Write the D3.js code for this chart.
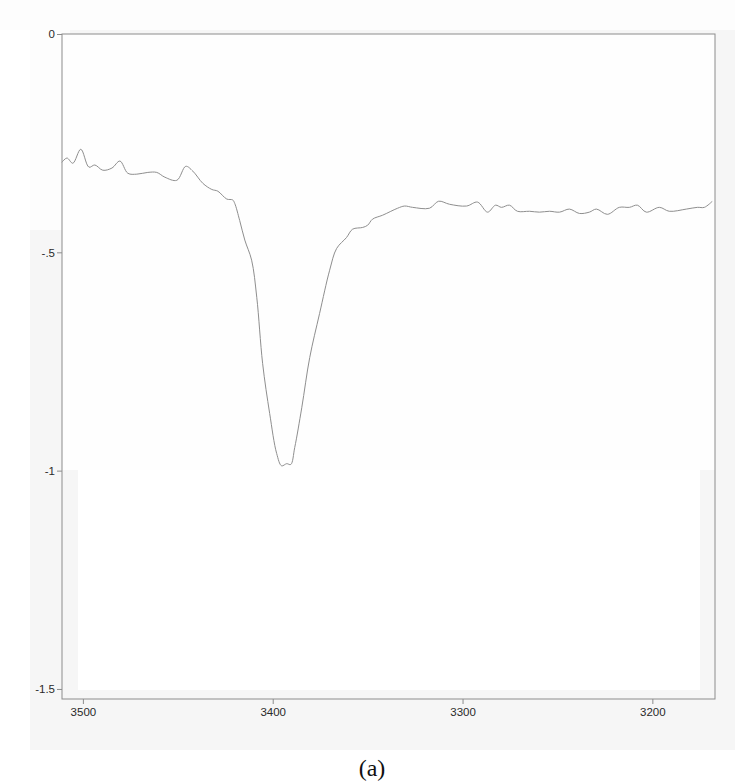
<!DOCTYPE html>
<html>
<head>
<meta charset="utf-8">
<script src="https://cdn.jsdelivr.net/npm/d3@7"></script>
<style>
  body { margin: 0; background: #fff; }
  svg { display: block; }
  .axis text { font-family: "Liberation Sans", Arial, sans-serif; font-size: 11.5px; fill: #2a2a2a; }
</style>
</head>
<body>
<svg width="735" height="782"></svg>
<script>
// wavenumber (cm-1) and absorbance
const wavenumber = [3511.1, 3508.4, 3505.3, 3501.1, 3496.8, 3493.7, 3489.5, 3484.7, 3480.5, 3476.3,
  3471.6, 3465.8, 3461.1, 3456.8, 3450.5, 3445.8, 3442.1, 3436.8, 3432.1, 3428.9,
  3424.2, 3421.1, 3420.0, 3417.4, 3414.7, 3411.1, 3408.4, 3405.3, 3401.6, 3397.9,
  3395.3, 3392.6, 3390.5, 3388.4, 3384.7, 3380.5, 3375.3, 3370.0, 3366.3, 3361.1,
  3357.9, 3352.6, 3350.0, 3347.4, 3342.1, 3334.2, 3330.5, 3326.3, 3317.4, 3312.6,
  3306.8, 3297.9, 3292.1, 3286.8, 3282.6, 3279.5, 3275.3, 3271.1, 3264.7, 3259.5,
  3254.2, 3248.9, 3243.7, 3238.4, 3233.2, 3229.5, 3223.7, 3217.4, 3212.1, 3207.9,
  3203.2, 3196.3, 3191.1, 3182.1, 3176.3, 3172.6, 3168.4]
const absorbance = [-0.294, -0.284, -0.296, -0.264, -0.305, -0.300, -0.312, -0.307, -0.291, -0.319,
  -0.321, -0.317, -0.317, -0.328, -0.335, -0.303, -0.314, -0.342, -0.356, -0.360,
  -0.378, -0.380, -0.388, -0.427, -0.472, -0.518, -0.603, -0.755, -0.869, -0.961,
  -0.989, -0.984, -0.986, -0.947, -0.856, -0.741, -0.640, -0.541, -0.491, -0.466,
  -0.447, -0.443, -0.438, -0.424, -0.415, -0.399, -0.394, -0.397, -0.399, -0.383,
  -0.390, -0.394, -0.385, -0.408, -0.392, -0.397, -0.392, -0.406, -0.406, -0.408,
  -0.406, -0.408, -0.401, -0.411, -0.408, -0.401, -0.413, -0.397, -0.397, -0.392,
  -0.408, -0.397, -0.406, -0.401, -0.397, -0.397, -0.383]

const xTicks = [3500, 3400, 3300, 3200]
const yTicks = [0, -0.5, -1, -1.5]
const yTickLabels = ['0', '-.5', '-1', '-1.5']
const caption = '(a)'

const svg = d3.select('svg')
const margin = {top: 34, right: 20, bottom: 83, left: 62}
const width = 735 - margin.left - margin.right
const height = 782 - margin.top - margin.bottom

// scanned page look: grey paper with whiter patches
svg.append('rect').attr('x', 8).attr('y', 14).attr('width', 727).attr('height', 736).attr('fill', '#f6f6f6')
svg.append('rect').attr('x', 0).attr('y', 0).attr('width', 30).attr('height', 782).attr('fill', '#fff')
svg.append('rect').attr('x', 0).attr('y', 0).attr('width', 735).attr('height', 30).attr('fill', '#fdfdfd')
svg.append('rect').attr('x', 30).attr('y', 30).attr('width', 40).attr('height', 200).attr('fill', '#fdfdfd')
svg.append('rect').attr('x', margin.left).attr('y', margin.top).attr('width', width).attr('height', 436).attr('fill', '#fefefe')
svg.append('rect').attr('x', 78).attr('y', 470).attr('width', 622).attr('height', 220).attr('fill', '#fff')

const g = svg.append('g').attr('transform', 'translate(' + margin.left + ',' + margin.top + ')')

const x = d3.scaleLinear().domain([3511, 3167]).range([0, width])
const y = d3.scaleLinear().domain([0, -1.523]).range([0, height])

// frame
g.append('rect')
  .attr('width', width)
  .attr('height', height)
  .attr('fill', 'none')
  .attr('stroke', '#8c8c8c')
  .attr('stroke-width', 1)

const xAxis = g.append('g')
  .attr('class', 'axis')
  .attr('transform', 'translate(0,' + height + ')')
  .call(d3.axisBottom(x).tickValues(xTicks).tickSize(5).tickPadding(4).tickFormat(d3.format('d')))

const yAxis = g.append('g')
  .attr('class', 'axis')
  .call(d3.axisLeft(y).tickValues(yTicks).tickSize(5).tickPadding(2).tickFormat((d, i) => yTickLabels[i]))

g.selectAll('.axis .domain').remove()
g.selectAll('.axis .tick line').attr('stroke', '#8c8c8c')

const line = d3.line()
  .x((d, i) => x(wavenumber[i]))
  .y(d => y(d))
  .curve(d3.curveCatmullRom)

g.append('path')
  .datum(absorbance)
  .attr('fill', 'none')
  .attr('stroke', '#8e8e8e')
  .attr('stroke-width', 1)
  .attr('d', line)

svg.append('text')
  .attr('x', 372)
  .attr('y', 776)
  .attr('text-anchor', 'middle')
  .style('font-family', '"Liberation Serif", "Times New Roman", serif')
  .style('font-size', '24px')
  .style('fill', '#111')
  .text(caption)
</script>
</body>
</html>
